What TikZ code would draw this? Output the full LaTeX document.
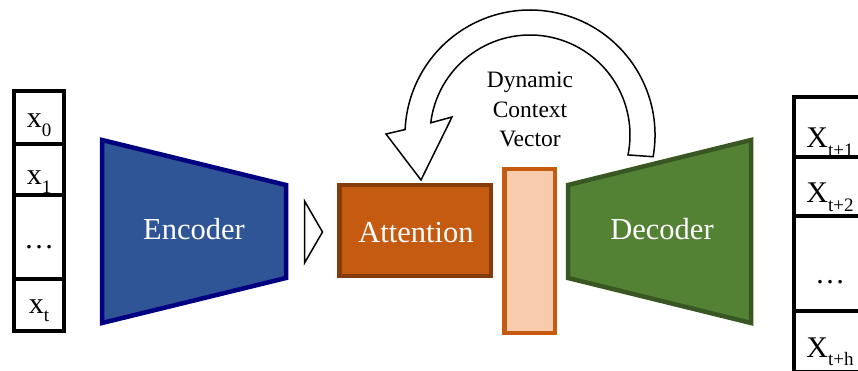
\documentclass[tikz,border=0pt]{standalone}
\usepackage{fontspec}
\setmainfont{Liberation Serif}
\definecolor{encfill}{HTML}{2F5597}
\definecolor{encline}{HTML}{000080}
\definecolor{attfill}{HTML}{C55A11}
\definecolor{attline}{HTML}{843C0C}
\definecolor{ctxfill}{HTML}{F8CBAD}
\definecolor{decfill}{HTML}{548235}
\definecolor{decline}{HTML}{385723}
% subscript with a deeper drop than the math default
\newcommand\lowsub[1]{\raisebox{-0.29em}{\fontsize{19}{19}\selectfont #1}}
\tikzset{
  cell/.style={draw=black, line width=4pt, fill=white},
  cellsym/.style={anchor=base, inner sep=0pt, font=\fontsize{30}{30}\selectfont},
  blocklabel/.style={anchor=base, inner sep=0pt, text=white, font=\fontsize{30.5}{30.5}\selectfont},
  ctxlabel/.style={anchor=base, inner sep=0pt, font=\fontsize{23.5}{23.5}\selectfont},
  outline/.style={draw=black, line width=1.5pt, fill=white, line join=miter},
  thickborder/.style={line width=4.5pt, line join=miter}
}
\begin{document}
\begin{tikzpicture}[x=1pt,y=1pt]
\useasboundingbox (0,0) rectangle (858,-371);

% input sequence
\draw[cell] (14,-91) rectangle (64,-144.5);
\draw[cell] (14,-144.5) rectangle (64,-195.5);
\draw[cell] (14,-195.5) rectangle (64,-278.5);
\draw[cell] (14,-278.5) rectangle (64,-331);
\node[cellsym] (x0) at (39,-128) {x\lowsub{0}};
\node[cellsym] (x1) at (39,-185) {x\lowsub{1}};
\node[cellsym] (xdots) at (39,-248) {\dots};
\node[cellsym] (xt) at (39,-313) {x\lowsub{t}};

% encoder
\draw[encline, fill=encfill, thickborder]
  (102,-140) -- (286,-185) -- (286,-278) -- (102,-323) -- cycle;
\node[blocklabel] (enc) at (194,-240) {Encoder};

% small pointer between encoder and attention
\draw[outline] (304.5,-201) -- (322.5,-232) -- (304.5,-263) -- cycle;

% attention block
\node[draw=attline, fill=attfill, thickborder, minimum width=151.5pt,
      minimum height=90.5pt, inner sep=0pt, outer sep=0pt] (attbox) at (415,-230.5) {};
\node[blocklabel] (att) at (416,-242) {Attention};

% context vector
\node[draw=attfill, fill=ctxfill, thickborder, minimum width=50.5pt,
      minimum height=163.5pt, inner sep=0pt, outer sep=0pt] (ctx) at (529.5,-251) {};

% decoder
\draw[decline, fill=decfill, thickborder]
  (568,-185) -- (751,-140) -- (751,-323) -- (568,-278) -- cycle;
\node[blocklabel] (dec) at (662,-240) {Decoder};

% curved feedback arrow from decoder to attention
\coordinate (arcc) at (530,-135);
\path (arcc) ++(-10:125) coordinate (outerend);
\path (arcc) ++(173:100) coordinate (innerend);
\draw[outline] (outerend) arc[start angle=-10, end angle=177.5, radius=125]
  -- (386,-134) -- (421,-180) -- (452,-117) -- (innerend)
  arc[start angle=173, end angle=-11.5, radius=100] -- cycle;
\node[ctxlabel] (l1) at (530,-88) {Dynamic};
\node[ctxlabel] (l2) at (530,-118) {Context};
\node[ctxlabel] (l3) at (530,-147) {Vector};

% output sequence (runs past the right edge)
\begin{scope}
\clip (0,0) rectangle (858,-371);
\draw[cell] (794,-97.5) rectangle (868,-157);
\draw[cell] (794,-157) rectangle (868,-216);
\draw[cell] (794,-216) rectangle (868,-311);
\draw[cell] (794,-311) rectangle (868,-372);
\end{scope}
\node[cellsym] (y1) at (830,-148) {X\lowsub{t+1}};
\node[cellsym] (y2) at (830,-203) {X\lowsub{t+2}};
\node[cellsym] (ydots) at (830,-283) {\dots};
\node[cellsym] (yh) at (830,-357) {X\lowsub{t+h}};
\end{tikzpicture}
\end{document}
